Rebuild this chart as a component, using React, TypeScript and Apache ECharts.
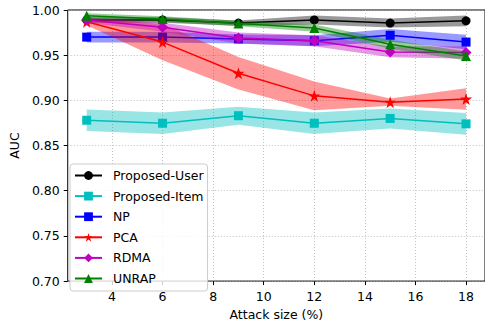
import React, { useEffect, useRef } from "react";
import * as echarts from "echarts";

const attackSizes = [3, 6, 9, 12, 15, 18];
const seriesNames = ["Proposed-User", "Proposed-Item", "NP", "PCA", "RDMA", "UNRAP"];

const userMean = [0.989, 0.989, 0.9855, 0.989, 0.9855, 0.988];
const userStd = [0.003, 0.003, 0.003, 0.005, 0.005, 0.006];
const itemMean = [0.878, 0.8747, 0.883, 0.8747, 0.88, 0.874];
const itemStd = [0.012, 0.012, 0.01, 0.012, 0.011, 0.012];
const npMean = [0.97, 0.97, 0.968, 0.966, 0.972, 0.9645];
const npStd = [0.006, 0.006, 0.005, 0.006, 0.007, 0.008];
const pcaMean = [0.987, 0.9645, 0.93, 0.905, 0.898, 0.9015];
const pcaStd = [0.004, 0.02, 0.018, 0.016, 0.004, 0.012];
const rdmaMean = [0.989, 0.981, 0.969, 0.966, 0.9536, 0.953];
const rdmaStd = [0.003, 0.005, 0.006, 0.006, 0.006, 0.007];
const unrapMean = [0.9935, 0.99, 0.985, 0.98, 0.962, 0.949];
const unrapStd = [0.003, 0.003, 0.003, 0.004, 0.005, 0.005];

const xTicks = [4, 6, 8, 10, 12, 14, 16, 18];

const STAR =
  "path://M0,-100 L22.45,-30.9 L95.1,-30.9 L36.3,11.8 L58.8,80.9 L0,38.2 L-58.8,80.9 L-36.3,11.8 L-95.1,-30.9 L-22.45,-30.9 Z";

const FONT = "DejaVu Sans";

export default function App() {
  const ref = useRef<HTMLDivElement>(null);
  useEffect(() => {
    document.body.style.margin = "0";
    const chart = echarts.init(ref.current!, null, { renderer: "svg" });
    const means = [userMean, itemMean, npMean, pcaMean, rdmaMean, unrapMean];
    const stds = [userStd, itemStd, npStd, pcaStd, rdmaStd, unrapStd];
    const colors = ["#000000", "#00bfbf", "#0000ff", "#ff0000", "#bf00bf", "#008000"];
    const symbols = ["circle", "rect", "rect", STAR, "diamond", "triangle"];
    const sizes = [9, 9, 9, 12, 11, 10];

    const series: any[] = [];
    means.forEach((m, i) => {
      const s = stds[i];
      series.push({
        type: "custom",
        name: "band" + i,
        silent: true,
        data: attackSizes.map((x, j) => [x, m[j]]),
        renderItem: (params: any, api: any) => {
          if (params.dataIndex !== 0) return null;
          const upper = attackSizes.map((x, j) => api.coord([x, m[j] + s[j]]));
          const lower = attackSizes.map((x, j) => api.coord([x, m[j] - s[j]])).reverse();
          return {
            type: "polygon",
            shape: { points: upper.concat(lower) },
            style: { fill: colors[i], opacity: 0.4 },
          };
        },
        z: 2 + i * 2,
      });
      series.push({
        type: "line",
        name: seriesNames[i],
        data: attackSizes.map((x, j) => [x, m[j]]),
        symbol: symbols[i],
        symbolSize: sizes[i],
        lineStyle: { color: colors[i], width: 1.5 },
        itemStyle: { color: colors[i] },
        z: 3 + i * 2,
      });
    });

    chart.setOption({
      animation: false,
      grid: {
        left: 63,
        right: -4,
        top: 10,
        bottom: 40,
        show: true,
        borderColor: "#000",
        borderWidth: 1,
        backgroundColor: "transparent",
      },
      legend: {
        data: seriesNames,
        orient: "vertical",
        left: 70,
        top: 164,
        itemWidth: 27,
        itemHeight: 11,
        itemGap: 7.6,
        padding: [5, 4, 6, 4],
        backgroundColor: "rgba(255,255,255,0.8)",
        borderColor: "#cccccc",
        borderWidth: 1,
        borderRadius: 3,
        textStyle: { fontFamily: FONT, fontSize: 12.5, color: "#000", lineHeight: 11, padding: [0, 0, 0, 6] },
      },
      xAxis: {
        type: "value",
        min: 2.25,
        max: 18.75,
        name: "Attack size (%)",
        nameLocation: "middle",
        nameGap: 26,
        nameTextStyle: { fontFamily: FONT, fontSize: 12.5, color: "#000" },
        axisLine: { show: false },
        axisTick: { show: true, customValues: xTicks, length: 4, lineStyle: { color: "#000" } },
        axisLabel: {
          customValues: xTicks,
          fontFamily: FONT,
          fontSize: 12.5,
          color: "#000",
          margin: 9,
        },
        splitLine: { show: true, lineStyle: { color: "#b0b0b0", width: 0.8, type: [1, 2] } },
      },
      yAxis: {
        type: "value",
        min: 0.7,
        max: 1.0,
        interval: 0.05,
        name: "AUC",
        nameLocation: "middle",
        nameGap: 43,
        nameTextStyle: { fontFamily: FONT, fontSize: 12.5, color: "#000" },
        axisLine: { show: false },
        axisTick: { show: true, length: 4, lineStyle: { color: "#000" } },
        axisLabel: {
          fontFamily: FONT,
          fontSize: 12.5,
          color: "#000",
          margin: 8,
          formatter: (v: number) => v.toFixed(2),
        },
        splitLine: { show: true, lineStyle: { color: "#b0b0b0", width: 0.8, type: [1, 2] } },
      },
      series,
    });
    return () => chart.dispose();
  }, []);
  return <div ref={ref} style={{ width: 485, height: 326 }} />;
}
